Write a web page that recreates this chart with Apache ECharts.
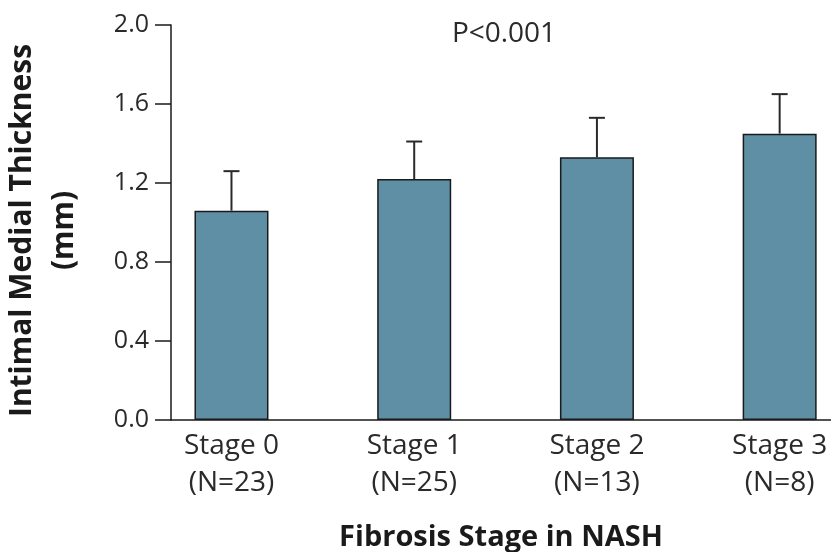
<!DOCTYPE html>
<html>
<head>
<meta charset="utf-8">
<script src="https://cdn.jsdelivr.net/npm/echarts@6/dist/echarts.min.js"></script>
<style>
  html, body { margin: 0; padding: 0; background: #fff; }
  #chart { width: 831px; height: 552px; }
</style>
</head>
<body>
<div id="chart"></div>
<script>
// Intimal medial thickness by fibrosis stage (mean + SD)
const stages = ['Stage 0', 'Stage 1', 'Stage 2', 'Stage 3'];
const counts = [23, 25, 13, 8];
const meanIMT = [1.06, 1.22, 1.33, 1.45];
const sdIMT = [0.20, 0.19, 0.20, 0.20];
const yTicks = [0.0, 0.4, 0.8, 1.2, 1.6, 2.0];

const FONT = 'Open Sans';
const TEXT = '#2a2a2a';

const barData = meanIMT.map((v, i) => [i, v]);
const errData = meanIMT.map((v, i) => [i, v, v + sdIMT[i]]);

const chart = echarts.init(document.getElementById('chart'), null, { renderer: 'canvas' });

chart.setOption({
  backgroundColor: '#ffffff',
  animation: false,
  grid: { left: 171, right: 0, top: 25, bottom: 132, containLabel: false, outerBoundsMode: 'none' },
  title: {
    text: 'P<0.001',
    left: 499, top: 15,
    textAlign: 'center',
    textStyle: { fontFamily: FONT, fontSize: 28, fontWeight: 'normal', color: TEXT }
  },
  xAxis: {
    type: 'value',
    min: -0.331,
    max: 3.281,
    splitLine: { show: false },
    axisLine: { show: true, onZero: false, lineStyle: { color: '#1a1a1a', width: 1.5 } },
    axisTick: { show: false },
    axisLabel: {
      customValues: stages.map((_, i) => i),
      formatter: v => stages[v] + '\n(N=' + counts[v] + ')',
      fontFamily: FONT, fontSize: 28, color: TEXT,
      lineHeight: 37, margin: 8
    },
    name: 'Fibrosis Stage in NASH',
    nameLocation: 'middle',
    nameGap: 103,
    nameTextStyle: { fontFamily: FONT, fontSize: 29, fontWeight: 'bold', color: '#1a1a1a', verticalAlign: 'top' }
  },
  yAxis: {
    type: 'value',
    min: 0, max: 2.0, interval: 0.4,
    splitLine: { show: false },
    axisLine: { show: true, onZero: false, lineStyle: { color: '#1a1a1a', width: 1.5 } },
    axisTick: { show: true, length: 16, lineStyle: { color: '#1a1a1a', width: 1.5 } },
    axisLabel: {
      customValues: yTicks,
      formatter: v => v.toFixed(1),
      fontFamily: FONT, fontSize: 25, color: TEXT, margin: 22
    },
    name: 'Intimal Medial Thickness\n(mm)',
    nameLocation: 'middle',
    nameRotate: 90,
    nameGap: 86,
    nameTextStyle: {
      fontFamily: FONT, fontSize: 30, fontWeight: 'bold', color: '#1a1a1a',
      lineHeight: 42, padding: [0, 16, 0, 0]
    }
  },
  series: [
    {
      type: 'bar',
      data: barData,
      barWidth: 74,
      itemStyle: { color: '#5e8fa4', borderColor: '#1a1a1a', borderWidth: 1.5 },
      z: 2
    },
    {
      type: 'custom',
      data: errData,
      z: 3,
      renderItem: (params, api) => {
        const x = api.value(0);
        const base = api.coord([x, api.value(1)]);
        const top = api.coord([x, api.value(2)]);
        const half = 8;
        const style = { stroke: '#2a2a2a', lineWidth: 2 };
        return {
          type: 'group',
          children: [
            { type: 'line', shape: { x1: base[0], y1: base[1], x2: top[0], y2: top[1] }, style },
            { type: 'line', shape: { x1: top[0] - half, y1: top[1], x2: top[0] + half, y2: top[1] }, style }
          ]
        };
      }
    }
  ]
});
</script>
</body>
</html>
